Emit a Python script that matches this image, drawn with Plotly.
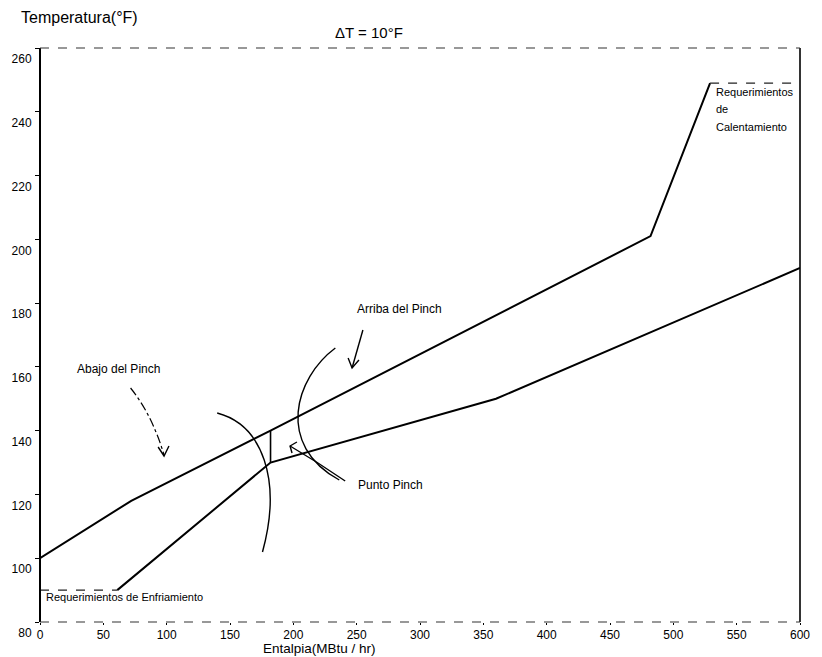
import plotly.graph_objects as go

# ---- data ----
hot_x = [0, 72, 182, 482, 529]
hot_y = [100, 118, 140, 201, 249]
hot_util_x = [529, 600]
hot_util_y = [249, 249]
cold_x = [61, 182, 360, 600]
cold_y = [90, 130, 150, 191]
cold_util_x = [0, 61]
cold_util_y = [90, 90]
pinch_x = [182, 182]
pinch_y = [130, 140]
x_ticks = list(range(0, 601, 50))
y_ticks = list(range(80, 261, 20))

# ---- geometry helpers (image pixels -> data / paper) ----
L, R, T, B = 36, 808, 48, 622
XMIN, XMAX, YMIN, YMAX = 0, 600, 80, 260
def dx(px): return XMIN + (px - L) * (XMAX - XMIN) / (R - L)
def dy(py): return YMIN + (B - py) * (YMAX - YMIN) / (B - T)
def ppx(px): return (px - L) / (R - L)
def ppy(py): return (B - py) / (B - T)

FONT = "Liberation Sans, Arial, sans-serif"
line = dict(color="black", width=2)

fig = go.Figure()
fig.add_trace(go.Scatter(x=hot_x, y=hot_y, mode="lines", line=line, hoverinfo="skip"))
fig.add_trace(go.Scatter(x=cold_x, y=cold_y, mode="lines", line=line, hoverinfo="skip"))
fig.add_trace(go.Scatter(x=hot_util_x, y=hot_util_y, mode="lines",
                         line=dict(color="#222", width=1.3, dash="dash"), hoverinfo="skip"))
fig.add_trace(go.Scatter(x=cold_util_x, y=cold_util_y, mode="lines",
                         line=dict(color="#222", width=1.3, dash="dash"), hoverinfo="skip"))
fig.add_trace(go.Scatter(x=pinch_x, y=pinch_y, mode="lines",
                         line=dict(color="black", width=1.6), hoverinfo="skip"))

def path(cmds):
    out = []
    for c in cmds:
        if isinstance(c, str):
            out.append(c)
        else:
            out.append(f"{dx(c[0]):.3f},{dy(c[1]):.3f}")
    return " ".join(out)

shapes = []
# frame
shapes.append(dict(type="line", xref="paper", yref="paper", x0=0, x1=0, y0=0, y1=1,
                   line=dict(color="black", width=2)))
shapes.append(dict(type="line", xref="paper", yref="paper", x0=1, x1=1, y0=0, y1=1,
                   line=dict(color="black", width=1.6)))
shapes.append(dict(type="line", xref="paper", yref="paper", x0=0, x1=1, y0=1, y1=1,
                   line=dict(color="#333", width=1.1, dash="dash")))
shapes.append(dict(type="line", xref="paper", yref="paper", x0=0, x1=1, y0=0, y1=0,
                   line=dict(color="#333", width=1.1, dash="dash")))

arc = dict(color="black", width=1.4)
# left arc ")"
shapes.append(dict(type="path", xref="x", yref="y", line=arc,
                   path=path(["M", (216, 413), "C", (262, 425), (282, 480), (262, 552)])))
# right arc "("
shapes.append(dict(type="path", xref="x", yref="y", line=arc,
                   path=path(["M", (336, 348), "C", (295, 378), (275, 445), (340, 480)])))
# Punto Pinch arrow
shapes.append(dict(type="path", xref="x", yref="y", line=arc,
                   path=path(["M", (346, 481), "Q", (318, 462), (290, 446)])))
shapes.append(dict(type="path", xref="x", yref="y", line=arc,
                   path=path(["M", (297, 442), "L", (290, 446), "L", (292, 453)])))
# Arriba arrow
shapes.append(dict(type="path", xref="x", yref="y", line=arc,
                   path=path(["M", (364, 330), "L", (353, 368)])))
shapes.append(dict(type="path", xref="x", yref="y", line=arc,
                   path=path(["M", (349, 358), "L", (353, 368), "L", (360, 360)])))
# Abajo arrow (dash-dot)
shapes.append(dict(type="path", xref="x", yref="y",
                   line=dict(color="black", width=1.2, dash="dashdot"),
                   path=path(["M", (128, 388), "Q", (150, 415), (162, 455)])))
shapes.append(dict(type="path", xref="x", yref="y", line=arc,
                   path=path(["M", (156, 447), "L", (162, 456), "L", (167, 446)])))

ann = []
def txt(s, px, py, size=12, xanchor="center", yanchor="middle"):
    ann.append(dict(text=s, x=ppx(px), y=ppy(py), xref="paper", yref="paper",
                    xanchor=xanchor, yanchor=yanchor, showarrow=False, borderpad=0,
                    font=dict(family=FONT, size=size, color="black")))

txt("Temperatura(°F)", 16, 17, size=16, xanchor="left")
txt("\u0394T = 10°F", 370, 32, size=15)
txt("Entalpia(MBtu / hr)", 320, 657, size=13.5, yanchor="bottom")
txt("Abajo del Pinch", 116, 369, size=12)
txt("Arriba del Pinch", 401, 309, size=12)
txt("Punto Pinch", 392, 485, size=12)
txt("Requerimientos de Enfriamiento", 41, 597, size=11, xanchor="left")
txt("Requerimientos", 722, 92, size=11, xanchor="left")
txt("de", 722, 109, size=11, xanchor="left")
txt("Calentamiento", 722, 127, size=11, xanchor="left")

fig.update_layout(
    width=822, height=657,
    margin=dict(l=L, r=822 - R, t=T, b=657 - B),
    paper_bgcolor="white", plot_bgcolor="white",
    showlegend=False,
    shapes=shapes, annotations=ann,
    font=dict(family=FONT, color="black"),
    xaxis=dict(range=[XMIN, XMAX], tickvals=x_ticks, ticktext=[str(v) for v in x_ticks],
               showgrid=False, zeroline=False, showline=False,
               ticks="outside", ticklen=2, tickcolor="black", tickwidth=1,
               tickfont=dict(size=12, family=FONT)),
    yaxis=dict(range=[YMIN, YMAX], tickvals=y_ticks, ticktext=[str(v) for v in y_ticks],
               showgrid=False, zeroline=False, showline=False,
               ticks="outside", ticklen=4, tickcolor="black", tickwidth=1,
               ticklabelshift=11, ticklabelstandoff=1,
               tickfont=dict(size=12, family=FONT)),
)

fig.write_html("out.html", config={"displayModeBar": False},
               post_script="document.body.style.margin='0px';document.body.style.overflow='hidden';")
